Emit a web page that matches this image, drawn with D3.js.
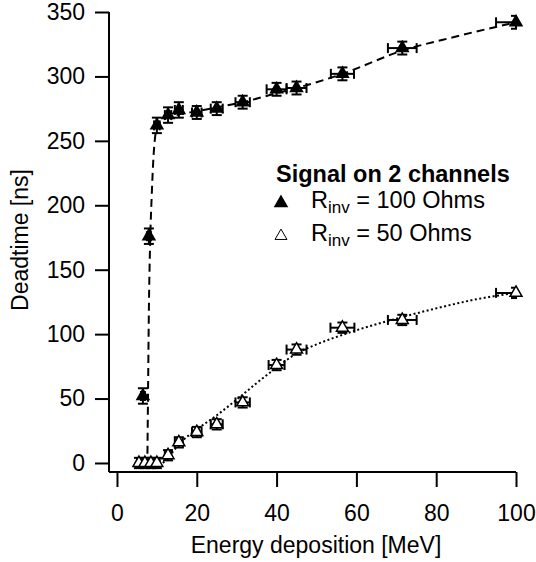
<!DOCTYPE HTML>
<html>
<head>
    <title>Deadtime vs energy deposition</title>
    <script type="text/javascript" src="https://cdnjs.cloudflare.com/ajax/libs/d3/7.8.5/d3.min.js"></script>
    <style>
        body { margin: 0; background: white; }
        svg { display: block; font-family: "Liberation Sans", Arial, Helvetica, sans-serif; }
        .axis path, .axis line { stroke: black; stroke-width: 2; }
        .axis text { font-size: 23px; fill: black; }
    </style>
</head>
<body>
    <div id="panel"></div>
    <script>
        // measured points, Rinv = 100 Ohms (filled)
        var e100 = [6.5, 8, 10, 12.8, 15.5, 20, 25, 31.5, 40, 45, 56.5, 71.5, 100];
        var t100 = [52, 176, 262, 270, 274, 272, 275, 280, 290, 291, 302, 322, 342];
        var ex100 = [0.5, 0.5, 0.7, 0.8, 1, 1.2, 1.5, 1.8, 2.5, 2.5, 2.9, 3.6, 5];
        var et100 = [6, 6, 6, 6, 6, 5, 5, 5, 5, 5, 5, 5, 5];

        // measured points, Rinv = 50 Ohms (open)
        var e50 = [5.5, 7, 8.5, 10, 12.8, 15.5, 20, 25, 31.5, 40, 45, 56.5, 71.5, 100];
        var t50 = [0, 0, 0, 0, 6, 16, 24, 30, 47, 76, 88, 105, 111, 132];
        var ex50 = [0.5, 0.5, 0.6, 0.7, 0.8, 1, 1.2, 1.5, 1.8, 2, 2.5, 3, 3.6, 5];
        var et50 = [4, 4, 4, 4, 4, 4, 4, 4, 4, 4, 4, 4, 4, 4];

        // fit curves
        var fit100_x = [7.6, 7.8, 8.0, 8.3, 8.7, 9.2, 9.7, 10.5, 12, 15, 20, 25, 31.5, 40, 45, 56.5, 71.5, 85, 100];
        var fit100_y = [-3, 60, 120, 170, 207, 240, 256, 263, 267, 270, 273, 276, 280, 287, 291, 302, 320, 331, 342];
        var fit50_x = [11.5, 13, 16, 20, 25, 31.5, 35, 40, 45, 50, 58, 70, 80, 90, 100];
        var fit50_y = [0, 5, 16, 26, 37, 53, 62, 74, 85, 92, 101, 112, 120, 127, 132];

        var x_ticks = [0, 20, 40, 60, 80, 100];
        var y_ticks = [0, 50, 100, 150, 200, 250, 300, 350];

        var width = 536, height = 562;
        var svg = d3.select("#panel").append("svg")
                    .attr("width", width)
                    .attr("height", height);

        var x = d3.scaleLinear().domain([-2, 100]).range([109, 516]);
        var y = d3.scaleLinear().domain([-7, 350]).range([472, 12]);

        function zip(a, b) {
            return a.map(function(v, i) { return [v, b[i]]; });
        }

        // axes
        svg.append("g")
            .attr("class", "axis")
            .attr("transform", "translate(0,472)")
            .call(d3.axisBottom(x).tickValues(x_ticks).tickSize(15).tickSizeOuter(0).tickPadding(18))
            .call(function(g) { g.select(".domain").attr("d", "M109,0H516"); });

        svg.append("g")
            .attr("class", "axis")
            .attr("transform", "translate(109,0)")
            .call(d3.axisLeft(y).tickValues(y_ticks).tickSize(14).tickSizeOuter(0).tickPadding(10))
            .call(function(g) { g.select(".domain").attr("d", "M0,12V472"); });

        svg.selectAll(".axis text").attr("font-family", null);

        svg.append("text")
            .attr("x", 316).attr("y", 553)
            .attr("text-anchor", "middle")
            .attr("font-size", 23)
            .text("Energy deposition [MeV]");

        svg.append("text")
            .attr("transform", "translate(28,240) rotate(-90)")
            .attr("text-anchor", "middle")
            .attr("font-size", 23)
            .text("Deadtime [ns]");

        // fit curves
        var line = d3.line()
                     .x(function(d) { return x(d[0]); })
                     .y(function(d) { return y(d[1]); })
                     .curve(d3.curveMonotoneX);

        svg.append("path")
            .attr("d", line(zip(fit100_x, fit100_y)))
            .attr("fill", "none").attr("stroke", "black")
            .attr("stroke-width", 2).attr("stroke-dasharray", "8,5");

        svg.append("path")
            .attr("d", line(zip(fit50_x, fit50_y)))
            .attr("fill", "none").attr("stroke", "black")
            .attr("stroke-width", 2).attr("stroke-dasharray", "2,2.5");

        // error bars, clipped at the right end of the axis
        svg.append("clipPath").attr("id", "clip")
            .append("rect").attr("x", 0).attr("y", 0).attr("width", 517).attr("height", height);

        function draw_errors(xs, ys, exs, eys) {
            var g = svg.append("g").attr("clip-path", "url(#clip)")
                       .attr("stroke", "black").attr("stroke-width", 2);
            var cap = 5;
            for (var i = 0; i < xs.length; ++i) {
                var cx = x(xs[i]), cy = y(ys[i]);
                var x0 = x(xs[i] - exs[i]), x1 = x(xs[i] + exs[i]);
                var y0 = y(ys[i] + eys[i]), y1 = y(ys[i] - eys[i]);
                g.append("line").attr("x1", x0).attr("x2", x1).attr("y1", cy).attr("y2", cy);
                g.append("line").attr("x1", x0).attr("x2", x0).attr("y1", cy - cap).attr("y2", cy + cap);
                g.append("line").attr("x1", x1).attr("x2", x1).attr("y1", cy - cap).attr("y2", cy + cap);
                g.append("line").attr("x1", cx).attr("x2", cx).attr("y1", y0).attr("y2", y1);
                g.append("line").attr("x1", cx - cap).attr("x2", cx + cap).attr("y1", y0).attr("y2", y0);
                g.append("line").attr("x1", cx - cap).attr("x2", cx + cap).attr("y1", y1).attr("y2", y1);
            }
        }

        draw_errors(e50, t50, ex50, et50);
        draw_errors(e100, t100, ex100, et100);

        var tri = d3.symbol().type(d3.symbolTriangle).size(62);

        svg.append("g").selectAll("path")
            .data(zip(e50, t50)).join("path")
            .attr("d", tri)
            .attr("transform", function(d) { return "translate(" + x(d[0]) + "," + y(d[1]) + ")"; })
            .attr("fill", "white").attr("stroke", "black").attr("stroke-width", 1.5);

        svg.append("g").selectAll("path")
            .data(zip(e100, t100)).join("path")
            .attr("d", tri)
            .attr("transform", function(d) { return "translate(" + x(d[0]) + "," + y(d[1]) + ")"; })
            .attr("fill", "black").attr("stroke", "black").attr("stroke-width", 1.5);

        // legend
        var legend = svg.append("g");
        legend.append("text")
            .attr("x", 276).attr("y", 182)
            .attr("font-size", 23.5).attr("font-weight", "bold")
            .text("Signal on 2 channels");

        var legend_rows = [
            {label: " = 100 Ohms", filled: true, y: 208},
            {label: " = 50 Ohms", filled: false, y: 241}
        ];
        legend_rows.forEach(function(r) {
            legend.append("path")
                .attr("d", tri)
                .attr("transform", "translate(281," + (r.y - 5) + ")")
                .attr("fill", r.filled ? "black" : "white")
                .attr("stroke", "black").attr("stroke-width", r.filled ? 1.5 : 1);
            var t = legend.append("text")
                .attr("x", 311).attr("y", r.y)
                .attr("font-size", 23.5);
            t.append("tspan").text("R");
            t.append("tspan").attr("font-size", 17).attr("dy", 5).text("inv");
            t.append("tspan").attr("dy", -5).text(r.label);
        });
    </script>
</body>
</html>
